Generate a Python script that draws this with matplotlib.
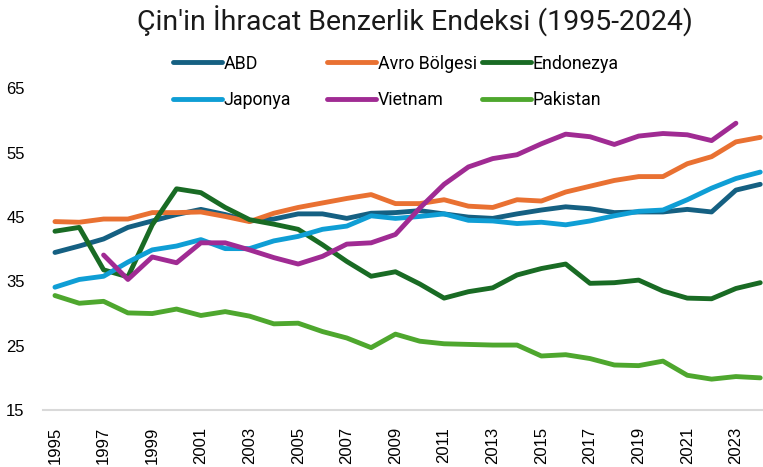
import matplotlib
matplotlib.use("Agg")
import matplotlib.pyplot as plt
from matplotlib.lines import Line2D

years = list(range(1995, 2025))

abd = [39.5, 40.5, 41.6, 43.4, 44.4, 45.4, 46.2, 45.4, 44.4, 44.7, 45.5, 45.5, 44.8, 45.6,
       45.7, 46.0, 45.5, 45.0, 44.8, 45.5, 46.1, 46.6, 46.3, 45.7, 45.8, 45.8, 46.2, 45.8,
       49.2, 50.1]
avro = [44.3, 44.2, 44.7, 44.7, 45.7, 45.7, 45.8, 45.1, 44.3, 45.6, 46.5, 47.2, 47.9, 48.5,
        47.1, 47.1, 47.7, 46.7, 46.5, 47.7, 47.5, 48.9, 49.8, 50.7, 51.3, 51.3, 53.3, 54.4,
        56.7, 57.4]
endonezya = [42.8, 43.4, 36.8, 35.7, 43.8, 49.4, 48.8, 46.5, 44.6, 43.9, 43.1, 40.7, 38.1,
             35.8, 36.5, 34.6, 32.4, 33.4, 34.0, 36.0, 37.0, 37.7, 34.7, 34.8, 35.2, 33.5,
             32.4, 32.3, 33.9, 34.8]
japonya = [34.1, 35.3, 35.8, 38.0, 39.9, 40.5, 41.5, 40.1, 40.1, 41.3, 42.0, 43.1, 43.6,
           45.2, 44.8, 45.1, 45.5, 44.5, 44.4, 44.0, 44.2, 43.8, 44.4, 45.2, 45.9, 46.1,
           47.7, 49.5, 51.0, 52.0]
vietnam = [None, None, 39.1, 35.3, 38.8, 37.9, 41.0, 41.0, 39.9, 38.7, 37.7, 38.9, 40.8,
           41.0, 42.3, 46.4, 50.1, 52.8, 54.1, 54.7, 56.4, 57.9, 57.5, 56.3, 57.6, 58.0,
           57.8, 56.9, 59.6, None]
pakistan = [32.8, 31.6, 31.9, 30.1, 30.0, 30.7, 29.7, 30.3, 29.6, 28.4, 28.5, 27.2, 26.2,
            24.7, 26.8, 25.7, 25.3, 25.2, 25.1, 25.1, 23.4, 23.6, 23.0, 22.0, 21.9, 22.6,
            20.4, 19.8, 20.2, 20.0]

series = [
    ("ABD", abd, "#156082"),
    ("Avro Bölgesi", avro, "#E97132"),
    ("Endonezya", endonezya, "#196B24"),
    ("Japonya", japonya, "#0F9ED5"),
    ("Vietnam", vietnam, "#A02B93"),
    ("Pakistan", pakistan, "#4EA72E"),
]
title = "Çin'in İhracat Benzerlik Endeksi (1995-2024)"
yticks = [15, 25, 35, 45, 55, 65]
xticks = list(range(1995, 2024, 2))

plt.rcParams['font.family'] = ['Liberation Sans', 'DejaVu Sans']

W, H = 763, 467
fig = plt.figure(figsize=(W / 100, H / 100), dpi=100)
ax = fig.add_axes([42.8 / W, 1 - 410 / H, 1 - 42.8 / W, (410 - 88.5) / H])

handles = []
for name, vals, col in series:
    xs = [y for y, v in zip(years, vals) if v is not None]
    vs = [v for v in vals if v is not None]
    ax.plot(xs, vs, color=col, lw=3.5, solid_joinstyle='round',
            solid_capstyle='round', label=name)
    handles.append(Line2D([], [], color=col, lw=3.5, solid_capstyle='round'))

ax.set_xlim(1994.5, 1994.5 + (W - 42.8) / 24.32)
ax.set_ylim(15, 65)
ax.set_yticks(yticks)
ax.set_xticks(xticks)
ax.set_xticklabels([str(x) for x in xticks], rotation=90)
ax.tick_params(axis='both', length=0, labelsize=12, colors='black')
ax.tick_params(axis='y', pad=13)
ax.tick_params(axis='x', pad=12)
for s in ['top', 'right', 'left']:
    ax.spines[s].set_visible(False)
ax.spines['bottom'].set_color('#D9D9D9')
ax.spines['bottom'].set_linewidth(1.5)

fig.text(415 / W, 1 - 31 / H, title, ha='center', va='baseline', fontsize=20.5,
         family=['Roboto', 'DejaVu Sans'], color='#1a1a1a')

labels = [s[0] for s in series]
col_x = [173, 327, 482]
for c in range(3):
    idx = [c, c + 3]
    fig.legend([handles[i] for i in idx], [labels[i] for i in idx],
               loc='center left', bbox_to_anchor=(col_x[c] / W, 1 - 82 / H),
               frameon=False, borderpad=0, borderaxespad=0, handlelength=2.75,
               handletextpad=0.1, labelspacing=1.05,
               prop={'family': ['Roboto', 'DejaVu Sans'], 'size': 12.8})

fig.savefig("out.png", dpi=100)
